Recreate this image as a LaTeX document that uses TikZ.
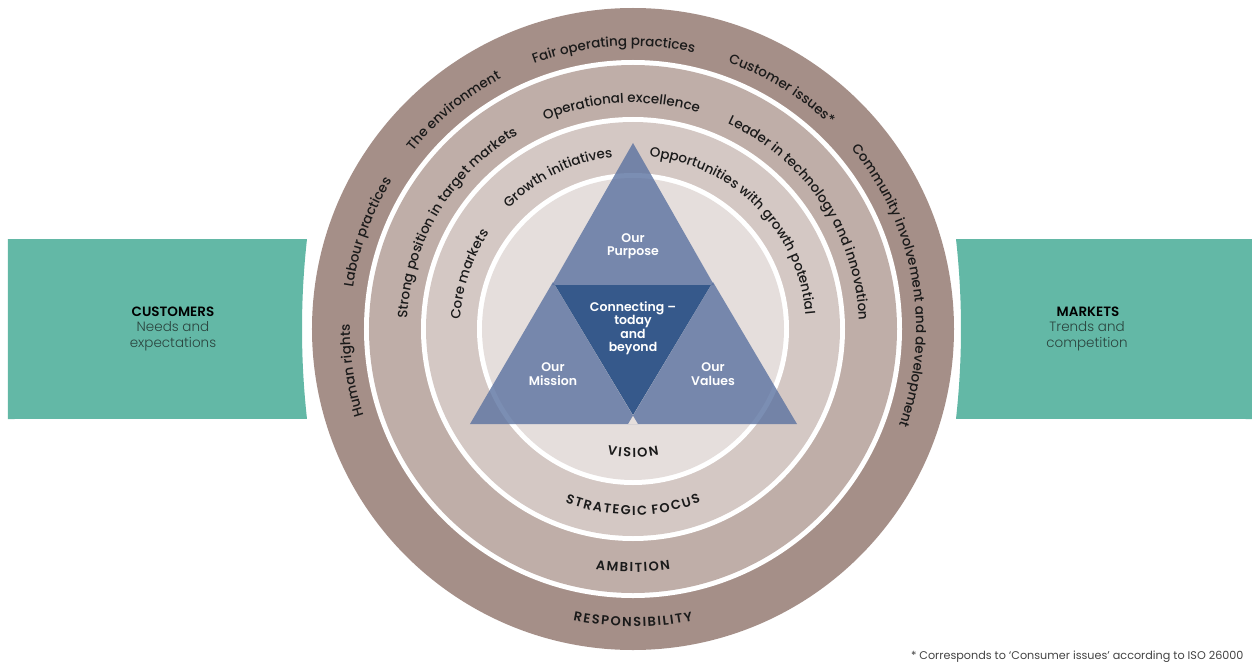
\documentclass[tikz,border=0pt]{standalone}
\usepackage{fontspec}
\setmainfont{Poppins}
\newfontfamily\medfam{Poppins Medium}
\newfontfamily\semifam{Poppins SemiBold}
\newfontfamily\lightfam{Poppins Light}
\usetikzlibrary{decorations.text}
\definecolor{ringA}{HTML}{A58F88}
\definecolor{ringB}{HTML}{BFAEA8}
\definecolor{ringC}{HTML}{D4C8C4}
\definecolor{ringD}{HTML}{E5DEDC}
\definecolor{tealbox}{HTML}{63B8A6}
\definecolor{triblue}{HTML}{5B72A0}
\definecolor{tridark}{HTML}{36598B}
\definecolor{txt}{HTML}{1A1A1A}
\definecolor{subtxt}{HTML}{2A443E}
\definecolor{notegray}{HTML}{444444}
\newcommand\ringfont{\medfam\fontsize{13.5}{16}\selectfont}
\newcommand\capfont{\semifam\fontsize{13}{15}\selectfont}
\tikzset{
  cwtext/.style={decorate, decoration={text along path, text align=center, text color=txt, text={|\ringfont|#1}}},
  capstext/.style={decorate, decoration={text along path, text align=center, text color=txt, text={|\capfont|#1}}},
  tritext/.style={text=white, font=\semifam\fontsize{12.5}{13.5}\selectfont, align=center},
  boxtitle/.style={text=black, font=\semifam\fontsize{13.5}{15}\selectfont},
  boxsub/.style={text=subtxt, font=\lightfam\fontsize{13.5}{16}\selectfont, align=center},
  tri/.style={fill=triblue, fill opacity=0.8},
}
\begin{document}
\begin{tikzpicture}[x=1pt,y=1pt]
\useasboundingbox (-633,-335) rectangle (619,329);
\fill[white] (-633,-335) rectangle (619,329);
% side boxes
\fill[tealbox] (-625,90) -- (-326,90) arc[start angle=173.64, end angle=186.36, radius=812pt] -- (-625,-90) -- cycle;
\fill[tealbox] (619,90) -- (323,90) arc[start angle=6.36, end angle=-6.36, radius=812pt] -- (619,-90) -- cycle;
% rings
\fill[ringA] (0,0) circle (321pt);
\fill[white] (0,0) circle (269pt);
\fill[ringB] (0,0) circle (264pt);
\fill[white] (0,0) circle (212pt);
\fill[ringC] (0,0) circle (207pt);
\fill[white] (0,0) circle (156pt);
\fill[ringD] (0,0) circle (151pt);
% triangles
\fill[tri] (0,186) -- (-81,44) -- (81,44) -- cycle;
\fill[tri, even odd rule] (-80,47) -- (-163,-95) -- (5,-95) -- cycle (80,47) -- (-5,-95) -- (164,-95) -- cycle;
\fill[tridark] (-78,44) -- (78,44) -- (0,-86) -- cycle;
\node[tritext] (purpose) at (0,83) {Our\\Purpose};
\node[tritext] (connect) at (0,1) {Connecting –\\today\\and\\beyond};
\node[tritext] (mission) at (-80,-45) {Our\\Mission};
\node[tritext] (values) at (80,-45) {Our\\Values};
% outer ring texts
\path[cwtext={Fair operating practices}] (164:283pt) arc[start angle=164, end angle=24, radius=283pt];
\path[cwtext={The environment}] (199.4:283pt) arc[start angle=199.4, end angle=59.4, radius=283pt];
\path[cwtext={Customer issues*}] (128.2:283pt) arc[start angle=128.2, end angle=-11.8, radius=283pt];
\path[cwtext={Community involvement and development}] (79.8:283pt) arc[start angle=79.8, end angle=-60.2, radius=283pt];
\path[cwtext={Labour practices}] (230:283pt) arc[start angle=230, end angle=90, radius=283pt];
\path[cwtext={Human rights}] (258.5:283pt) arc[start angle=258.5, end angle=118.5, radius=283pt];
% second ring texts
\path[cwtext={Operational excellence}] (163:226pt) arc[start angle=163, end angle=23, radius=226pt];
\path[cwtext={Strong position in target markets}] (219:226pt) arc[start angle=219, end angle=79, radius=226pt];
\path[cwtext={Leader in technology and innovation}] (103.7:226pt) arc[start angle=103.7, end angle=-36.3, radius=226pt];
% third ring texts
\path[cwtext={Growth initiatives}] (186.3:173pt) arc[start angle=186.3, end angle=46.3, radius=173pt];
\path[cwtext={Opportunities with growth potential}] (114.7:173pt) arc[start angle=114.7, end angle=-25.3, radius=173pt];
\path[cwtext={Core markets}] (231.6:173pt) arc[start angle=231.6, end angle=91.6, radius=173pt];
% bottom labels
\path[capstext={{R\kern1.6pt}{E\kern1.6pt}{S\kern1.6pt}{P\kern1.6pt}{O\kern1.6pt}{N\kern1.6pt}{S\kern1.6pt}{I\kern1.6pt}{B\kern1.6pt}{I\kern1.6pt}{L\kern1.6pt}{I\kern1.6pt}{T\kern1.6pt}{Y}}] (225:297.5pt) arc[start angle=225, end angle=315, radius=297.5pt];
\path[capstext={{A\kern1.6pt}{M\kern1.6pt}{B\kern1.6pt}{I\kern1.6pt}{T\kern1.6pt}{I\kern1.6pt}{O\kern1.6pt}{N}}] (225:243pt) arc[start angle=225, end angle=315, radius=243pt];
\path[capstext={{S\kern1.6pt}{T\kern1.6pt}{R\kern1.6pt}{A\kern1.6pt}{T\kern1.6pt}{E\kern1.6pt}{G\kern1.6pt}{I\kern1.6pt}{C\kern1.6pt} {F\kern1.6pt}{O\kern1.6pt}{C\kern1.6pt}{U\kern1.6pt}{S}}] (215:186pt) arc[start angle=215, end angle=325, radius=186pt];
\path[capstext={{V\kern1.6pt}{I\kern1.6pt}{S\kern1.6pt}{I\kern1.6pt}{O\kern1.6pt}{N}}] (225:128pt) arc[start angle=225, end angle=315, radius=128pt];
% box texts
\node[boxtitle] (cust) at (-460,17) {CUSTOMERS};
\node[boxsub] (custsub) at (-460,-7) {Needs and\\expectations};
\node[boxtitle] (mark) at (455,17) {MARKETS};
\node[boxsub] (marksub) at (454,-7) {Trends and\\competition};
\node[anchor=east, text=notegray, font=\fontsize{11.2}{13}\selectfont] (note) at (614,-328) {* Corresponds to `Consumer issues' according to ISO 26000};
\end{tikzpicture}
\end{document}
